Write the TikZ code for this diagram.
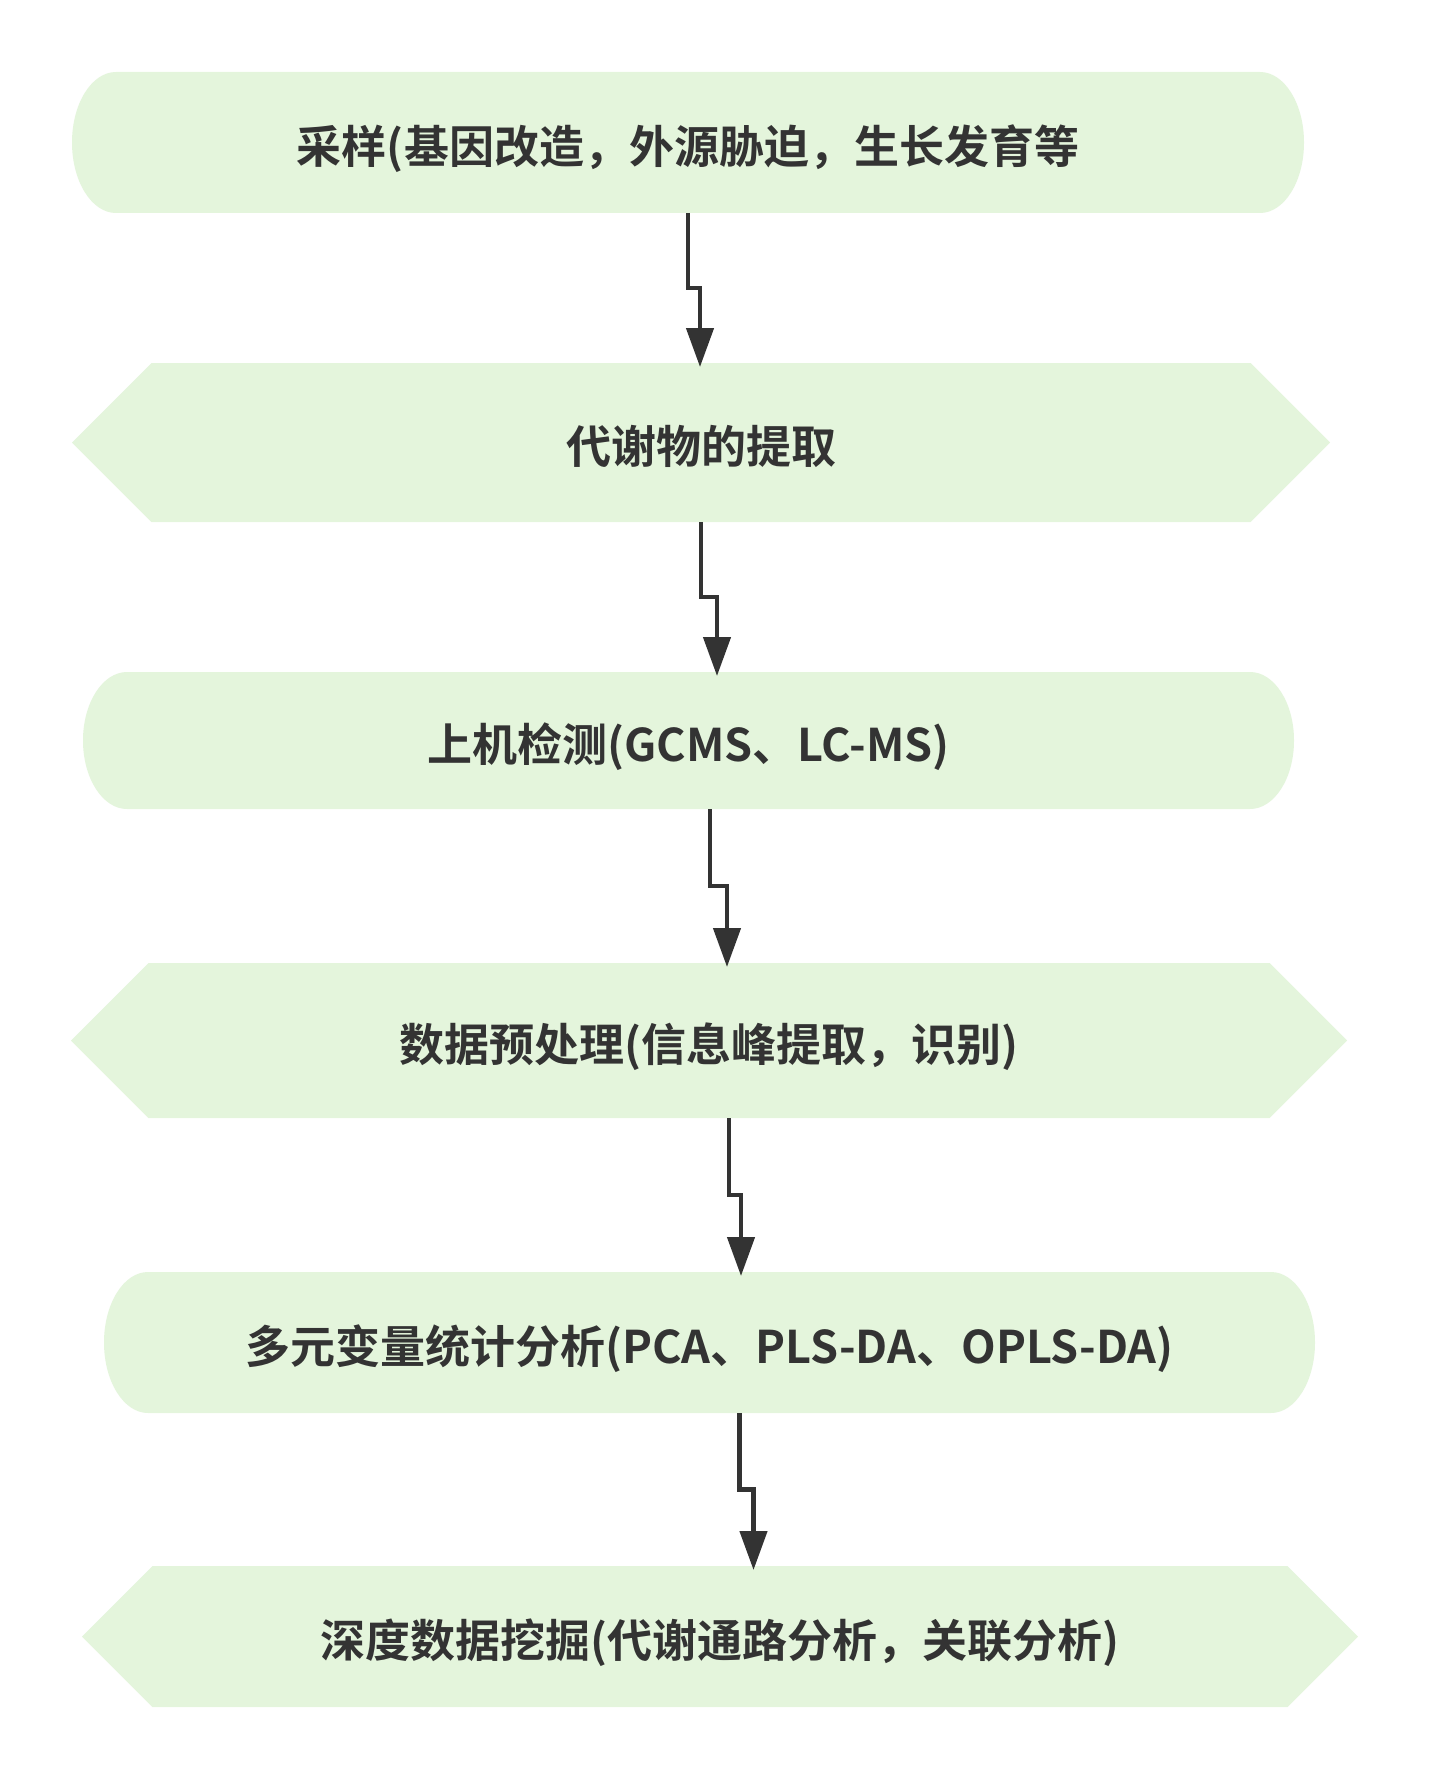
\documentclass[tikz,border=0pt]{standalone}
\usepackage{fontspec}
\newfontfamily\cjk{Noto Sans CJK SC}[BoldFont={Noto Sans CJK SC Bold}]
\usetikzlibrary{arrows.meta, calc}
\definecolor{leaf}{HTML}{E4F5DC}
\definecolor{ink}{HTML}{333333}
\tikzset{
  stage/.style={fill=white, inner sep=0pt, outer sep=0pt, text=ink,
    text height=42pt, text depth=0pt,
    font=\cjk\bfseries\fontsize{45}{54}\selectfont},
  pill/.style 2 args={stage, minimum width=#1, minimum height=#2,
    path picture={\fill[leaf] ([xshift=44pt]path picture bounding box.north west)
      -- ([xshift=-44pt]path picture bounding box.north east)
      arc[start angle=90, end angle=-90, x radius=44pt, y radius=#2/2]
      -- ([xshift=44pt]path picture bounding box.south west)
      arc[start angle=270, end angle=90, x radius=44pt, y radius=#2/2] -- cycle;}},
  hexa/.style 2 args={stage, minimum width=#1, minimum height=#2,
    path picture={\fill[leaf] ([xshift=#2/2]path picture bounding box.north west)
      -- ([xshift=-#2/2]path picture bounding box.north east)
      -- (path picture bounding box.east)
      -- ([xshift=-#2/2]path picture bounding box.south east)
      -- ([xshift=#2/2]path picture bounding box.south west)
      -- (path picture bounding box.west) -- cycle;}},
  flow/.style={ink, line width=4.5pt, -{Triangle[length=39pt, width=27pt]}, shorten >=-4pt}
}

\begin{document}
\begin{tikzpicture}[x=1pt, y=-1pt]
  \useasboundingbox (0,0) rectangle (1429,1779);
  \node[pill={1232pt}{141pt}] (sample) at (688,142.5) {采样(基因改造，外源胁迫，生长发育等};
  \node[hexa={1258pt}{159pt}] (extract) at (701,442.5) {代谢物的提取};
  \node[pill={1211pt}{137pt}] (detect) at (688.5,740.5) {上机检测(GCMS、LC-MS)};
  \node[hexa={1276pt}{155pt}] (preproc) at (709,1040.5) {数据预处理(信息峰提取，识别)};
  \node[pill={1211pt}{141pt}] (multivar) at (709.5,1342.5) {多元变量统计分析(PCA、PLS-DA、OPLS-DA)};
  \node[hexa={1276pt}{141pt}] (mining) at (720,1636.5) {深度数据挖掘(代谢通路分析，关联分析)};

  \coordinate (S1) at (sample.south);
  \coordinate (E1) at ($(extract.north) + (-1,0)$);
  \coordinate (S2) at (extract.south);
  \coordinate (E2) at ($(detect.north) + (28.5,0)$);
  \coordinate (S3) at ($(detect.south) + (21.5,0)$);
  \coordinate (E3) at ($(preproc.north) + (18,0)$);
  \coordinate (S4) at ($(preproc.south) + (20,0)$);
  \coordinate (E4) at ($(multivar.north) + (31.5,0)$);
  \coordinate (S5) at ($(multivar.south) + (30,0)$);
  \coordinate (E5) at ($(mining.north) + (33.5,0)$);

  \draw[flow] (S1) |- ($(S1)!.5!(E1)$) -| (E1);
  \draw[flow] (S2) |- ($(S2)!.5!(E2)$) -| (E2);
  \draw[flow] (S3) |- ($(S3)!.5!(E3)$) -| (E3);
  \draw[flow] (S4) |- ($(S4)!.5!(E4)$) -| (E4);
  \draw[flow] (S5) |- ($(S5)!.5!(E5)$) -| (E5);
\end{tikzpicture}
\end{document}
